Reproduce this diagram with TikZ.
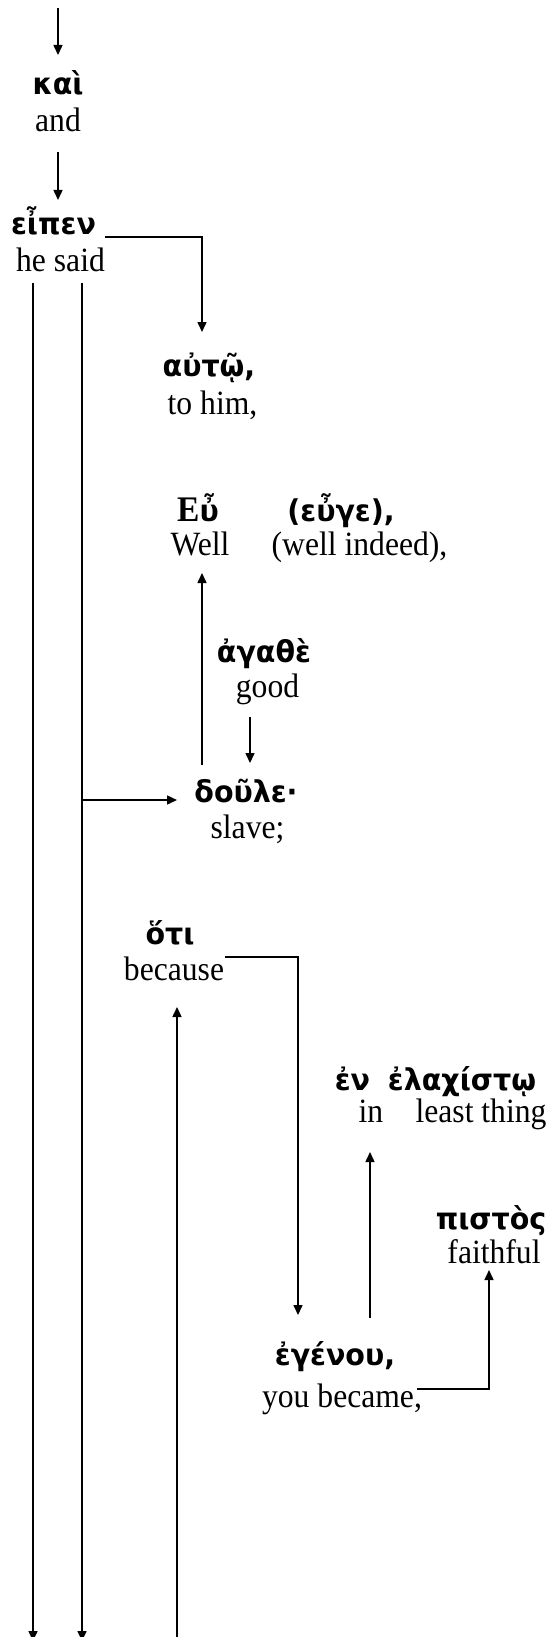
\documentclass[tikz,border=0pt]{standalone}
\usepackage{fontspec}
\setmainfont{Liberation Serif}[FakeStretch=0.93]
\newfontfamily\gk{DejaVu Sans}[FakeStretch=0.95]
\usetikzlibrary{arrows.meta,calc}
\begin{document}
\begin{tikzpicture}[x=1pt,y=1pt,
  gr/.style={font=\gk\bfseries\fontsize{30}{32}\selectfont, anchor=base, inner sep=0pt, text height=22pt, text depth=7pt},
  en/.style={font=\fontsize{34}{40}\selectfont, anchor=base, inner sep=0pt, text height=24pt, text depth=8pt},
  arr/.style={line width=1.5pt, -{Triangle[length=10pt,width=9pt]}}]
\useasboundingbox (0,0) rectangle (551,-1637);
% nodes
\node[gr] (g-kai) at (58,-95) {καὶ};
\node[en] (e-and) at (58,-132) {and};
\node[gr] (g-eipen) at (53.5,-235) {εἶπεν};
\node[en] (e-said) at (60.5,-272) {he said};
\node[gr] (g-auto) at (209,-376) {αὐτῷ,};
\node[en] (e-him) at (212.5,-414) {to him,};
\node[gr] (g-eu) at (198,-521) {{\rmfamily\bfseries\fontsize{36}{40}\selectfont Ε}ὖ};
\node[en] (e-well) at (200,-555) {Well};
\node[gr] (g-euge) at (341,-521) {(εὖγε),};
\node[en] (e-indeed) at (359.5,-555) {(well indeed),};
\node[gr] (g-agathe) at (264,-662) {ἀγαθὲ};
\node[en] (e-good) at (267.5,-697) {good};
\node[gr] (g-doule) at (246,-802) {δοῦλε·};
\node[en] (e-slave) at (247.5,-838) {slave;};
\node[gr] (g-hoti) at (170,-944) {ὅτι};
\node[en] (e-because) at (174,-980) {because};
\node[gr] (g-en) at (352.5,-1090) {ἐν};
\node[en] (e-in) at (371,-1122) {in};
\node[gr] (g-elax) at (462,-1090) {ἐλαχίστῳ};
\node[en] (e-least) at (481,-1122) {least thing};
\node[gr] (g-pistos) at (491,-1229) {πιστὸς};
\node[en] (e-faithful) at (494,-1263) {faithful};
\node[gr] (g-egenou) at (335,-1365) {ἐγένου,};
\node[en] (e-became) at (342,-1407) {you became,};
% free ends
\coordinate (top) at (58,-8);
\coordinate (bot1) at (33,-1641);
\coordinate (bot2) at (82,-1641);
\coordinate (bot3) at (177,-1641);
% connectors
\draw[arr] (top) -- ($(g-kai.base)+(0,40)$);
\draw[arr] ($(e-and.base)+(0,-20)$) -- ($(g-eipen.base)+(4.5,35)$);
\draw[arr] ($(g-eipen.base)+(51.5,-2)$) -| ($(g-auto.base)+(-7,44)$);
\draw[arr] ($(e-said.base)+(-27.5,-11)$) -- (bot1);
\draw[arr] ($(e-said.base)+(21.5,-11)$) -- (bot2);
\draw[arr] ($(e-said.base)+(21.5,-528)$) -- ($(g-doule.base)+(-69,2)$);
\draw[arr] ($(g-doule.base)+(-44,37)$) -- ($(g-eu.base)+(4,-52)$);
\draw[arr] ($(e-good.base)+(-17.5,-20)$) -- ($(g-doule.base)+(4,39)$);
\draw[arr] (bot3) -- ($(e-because.base)+(3,-27)$);
\draw[arr] ($(e-because.base)+(51,23)$) -| ($(g-egenou.base)+(-37,50)$);
\draw[arr] ($(g-egenou.base)+(35,47)$) -- ($(e-in.base)+(-1,-30)$);
\draw[arr] ($(e-became.base)+(75,18)$) -| ($(e-faithful.base)+(-5,-7)$);
\end{tikzpicture}
\end{document}
